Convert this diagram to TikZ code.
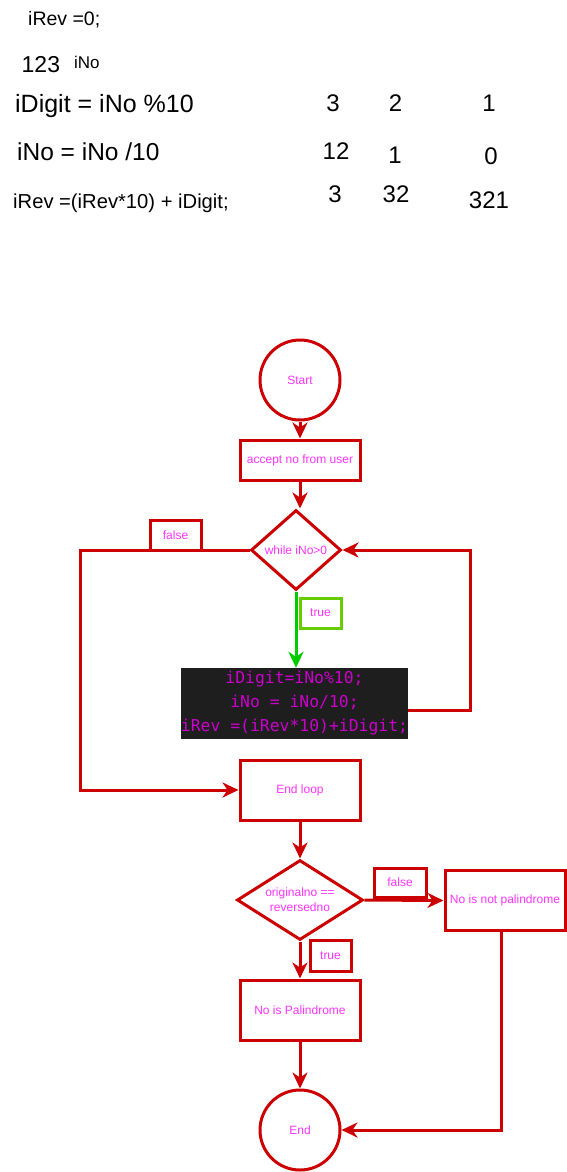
\documentclass[tikz,border=0pt]{standalone}
\usepackage{fontspec}
\setmainfont{Liberation Sans}
\newfontfamily\codefont{DejaVu Sans Mono}
\usetikzlibrary{shapes.geometric,arrows.meta}
\definecolor{fcred}{HTML}{CC0000}
\definecolor{fcpink}{HTML}{FF33FF}
\definecolor{codepink}{HTML}{CC00CC}
\definecolor{codebg}{HTML}{1E1E1E}
\definecolor{fcgreen}{HTML}{00CC00}
\definecolor{lblgreen}{HTML}{66CC00}
\tikzset{
  fcbase/.style={line width=3pt, draw=fcred, fill=white, text=fcpink,
    font=\fontsize{12pt}{15pt}\selectfont, align=center, inner sep=0pt},
  termnode/.style={fcbase, circle, minimum size=80pt},
  procnode/.style={fcbase, rectangle, minimum width=120pt, minimum height=#1},
  procnode/.default=60pt,
  decnode/.style={fcbase, diamond, inner sep=-20pt, minimum width=#1, minimum height=80pt},
  lblnode/.style={fcbase, rectangle, minimum height=30pt},
  codenode/.style={rectangle, fill=codebg, text=codepink, inner sep=0pt,
    font=\codefont\fontsize{16.4pt}{24pt}\selectfont, align=center,
    minimum width=227pt, minimum height=71pt},
  conn/.style={line width=3pt, draw=fcred,
    -{Stealth[length=16pt,width=15pt,inset=5pt]}},
  truearrow/.style={conn, draw=fcgreen},
  note/.style={inner sep=0pt, anchor=base west},
  num/.style={inner sep=0pt, anchor=base, font=\fontsize{24pt}{28pt}\selectfont}
}
\begin{document}
\begin{tikzpicture}[x=1pt,y=-1pt]
\useasboundingbox (0,0) rectangle (567,1172);

% --- notes at the top ---
\node[note, font=\fontsize{19.5pt}{23pt}\selectfont] (n0) at (28,25.5) {iRev =0;};
\node[note, font=\fontsize{23pt}{27pt}\selectfont] (n1) at (21.5,73) {123};
\node[note, font=\fontsize{17pt}{20pt}\selectfont] (n2) at (74,68) {iNo};
\node[note, font=\fontsize{25pt}{29pt}\selectfont] (n3) at (15,112) {iDigit = iNo \%10};
\node[note, font=\fontsize{24.5pt}{29pt}\selectfont] (n4) at (17,160) {iNo = iNo /10};
\node[note, font=\fontsize{20.2pt}{24pt}\selectfont] (n5) at (13,208) {iRev =(iRev*10) + iDigit;};

\node[num] (a1) at (333,111) {3};
\node[num] (a2) at (395.5,111) {2};
\node[num] (a3) at (489,111) {1};
\node[num] (b1) at (336,159) {12};
\node[num] (b2) at (395,163) {1};
\node[num] (b3) at (491,164) {0};
\node[num] (c1) at (335,202) {3};
\node[num] (c2) at (396,202) {32};
\node[num] (c3) at (489,208) {321};

% --- flowchart ---
\node[termnode] (start) at (300,380) {Start};
\node[procnode=40pt] (accept) at (300,460) {accept no from user};
\node[decnode=90pt] (loop) at (296,550) {while iNo\textgreater0};
\node[codenode] (code) at (294.5,703.5) {iDigit=iNo\%10;\\iNo = iNo/10;\\iRev =(iRev*10)+iDigit;};
\node[procnode] (endloop) at (300,790) {End loop};
\node[decnode=126pt] (check) at (300,900) {originalno ==\\reversedno};
\node[procnode] (notpal) at (505,900.5) {No is not palindrome};
\node[procnode] (pal) at (300,1010) {No is Palindrome};
\node[termnode] (end) at (300,1130) {End};

\coordinate (fl1) at (80,550);
\coordinate (lb) at (470,710);

\draw[conn] (start.south) -- (accept.north);
\draw[conn] (accept.south) -- (accept.south |- loop.north);
\draw[truearrow] (loop.south) -- (loop.south |- code.north);
\draw[conn] (loop.west) -- (fl1) |- (endloop.west);
\draw[conn] (code.east |- lb) -- (lb) |- (loop.east);
\draw[conn] (endloop.south) -- (check.north);
\draw[conn] (check.east) -- (notpal.west);
\draw[conn] (check.south) -- (pal.north);
\draw[conn] (pal.south) -- (end.north);
\draw[conn] ([xshift=-4pt]notpal.south) |- (end.east);

% --- edge labels ---
\node[lblnode, minimum width=51pt] (lf1) at (175.5,535) {false};
\node[lblnode, minimum width=41pt, draw=lblgreen] (lt1) at (320.5,613) {true};
\node[lblnode, minimum width=52pt, minimum height=29pt] (lf2) at (400,882.5) {false};
\node[lblnode, minimum width=41pt, minimum height=31pt] (lt2) at (330.5,955.5) {true};
\end{tikzpicture}
\end{document}
